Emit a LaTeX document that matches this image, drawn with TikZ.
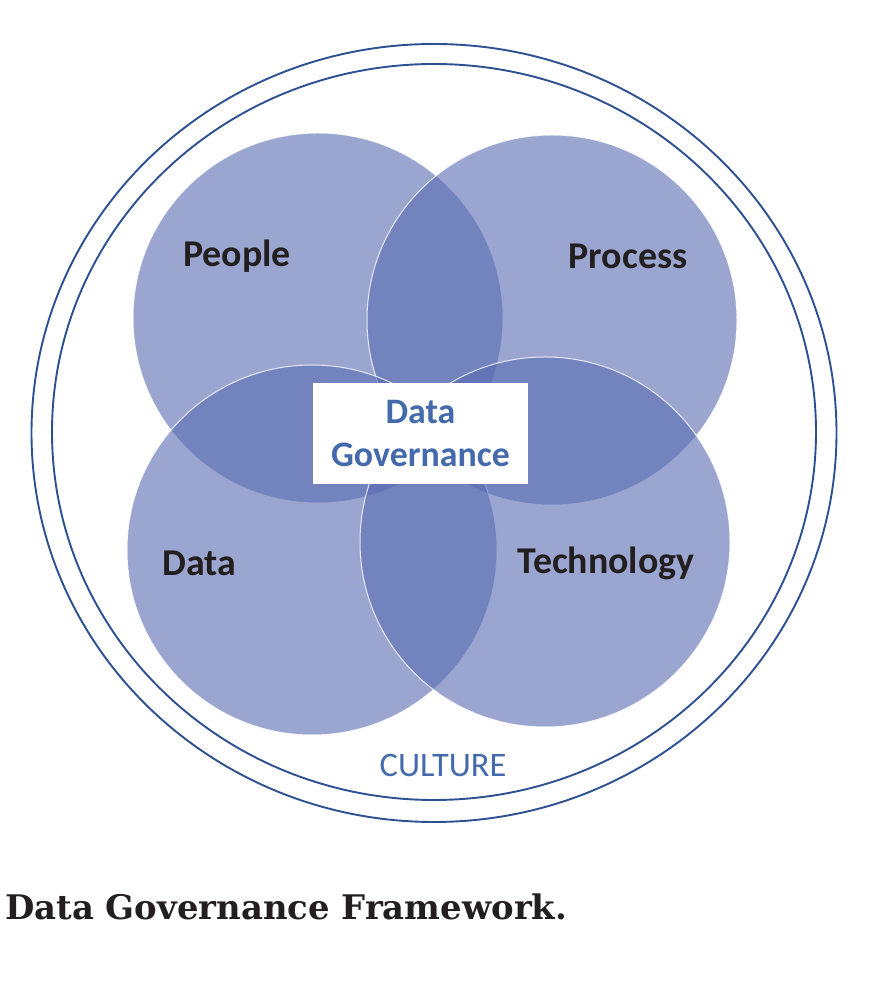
\documentclass[tikz,border=0pt]{standalone}
\usepackage{fontspec}
\setmainfont{Carlito}
\newfontfamily\captionfont{DejaVu Serif}
\definecolor{petalblue}{RGB}{87,107,177}
\definecolor{labelgray}{RGB}{35,31,32}
\definecolor{govblue}{RGB}{68,106,172}
\definecolor{ringblue}{RGB}{44,80,145}
\begin{document}
\begin{tikzpicture}[>=latex,line join=bevel,
  petal/.style={circle,minimum size=370bp,inner sep=0pt,outer sep=0pt,draw=white,line width=1bp,fill=petalblue,fill opacity=0.6,draw opacity=0.8},
  petallabel/.style={font=\fontsize{38}{42}\selectfont\bfseries,text=labelgray,inner sep=0pt},
  ring/.style={draw=ringblue,line width=1.9bp}]
\useasboundingbox (0bp,0bp) rectangle (884bp,990bp);
%%
\draw [ring] (434bp,557bp) ellipse [x radius=402.5bp,y radius=389bp];
  \draw [ring] (434bp,558bp) ellipse [x radius=382bp,y radius=368bp];
%
\node (people) at (318bp,672bp) [petal] {};
  \node (process) at (552bp,670bp) [petal] {};
  \node (data) at (312bp,440bp) [petal] {};
  \node (technology) at (545bp,448bp) [petal] {};
%
\node (people_txt) at (237bp,734bp) [petallabel] {People};
  \node (process_txt) at (628bp,734bp) [petallabel] {Process};
  \node (data_txt) at (199bp,427bp) [petallabel] {Data};
  \node (technology_txt) at (606bp,427bp) [petallabel] {Technology};
%
\node (govbox) at (420.5bp,556.5bp) [fill=white,minimum width=215bp,minimum height=101bp,inner sep=0pt,align=center,text=govblue,font=\fontsize{36}{43}\selectfont\bfseries] {Data\\Governance};
  \node (culture) at (443bp,225bp) [text=govblue,font=\fontsize{34.5}{38}\selectfont,inner sep=0pt] {CULTURE};
%
\node (caption) at (5bp,70bp) [anchor=base west,inner sep=0pt,text=labelgray,font=\captionfont\bfseries\fontsize{34}{38}\selectfont] {Data Governance Framework.};
%
\end{tikzpicture}
\end{document}
